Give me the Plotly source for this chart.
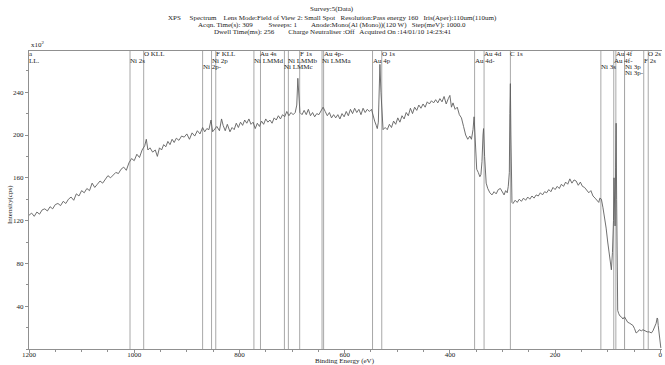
import plotly.graph_objects as go

# ---- spectrum data (binding energy eV, intensity in units of 10^2 cps) ----
energy = [1200, 1195, 1190, 1185, 1180, 1175, 1170, 1165, 1160, 1155, 1150, 1145, 1140, 1135, 1130, 1125,
          1120, 1115, 1110, 1105, 1100, 1095, 1090, 1085, 1080, 1075, 1070, 1065, 1060, 1055, 1050, 1045,
          1040, 1035, 1030, 1025, 1020, 1015, 1010, 1005, 1000, 995, 990, 985, 980, 977, 974, 970, 965,
          960, 956, 952, 948, 944, 940, 936, 932, 928, 924, 920, 915, 910, 905, 900, 895, 890, 885, 880,
          875, 870, 866, 862, 858, 854, 851, 847, 843, 838, 834, 831, 827, 823, 818, 814, 810, 806, 802,
          798, 794, 790, 786, 782, 778, 774, 770, 766, 762, 758, 754, 750, 746, 742, 738, 734, 730, 726,
          722, 718, 714, 710, 706, 702, 698, 694, 691, 689, 687, 685, 681, 677, 673, 669, 665, 661, 657,
          653, 649, 645, 641, 637, 633, 629, 625, 621, 617, 613, 609, 605, 601, 597, 593, 589, 585, 581,
          577, 573, 569, 565, 561, 557, 553, 549, 546, 543, 540, 538, 536, 534, 533, 531, 529, 527, 523,
          519, 515, 511, 507, 503, 499, 495, 491, 487, 483, 479, 475, 471, 467, 463, 459, 455, 451, 447,
          443, 439, 435, 431, 427, 423, 419, 415, 411, 407, 403, 400, 397, 394, 390, 386, 382, 378, 374,
          370, 366, 362, 359, 356, 354, 352, 349, 346, 343, 341, 339, 337, 336, 334, 331, 328, 324, 320,
          316, 312, 308, 304, 300, 297, 294, 291, 289, 287, 286, 285, 284, 283, 282, 280, 276, 272, 268,
          264, 260, 256, 252, 248, 244, 240, 236, 232, 228, 224, 220, 216, 212, 208, 204, 200, 196, 192,
          188, 184, 180, 176, 172, 168, 164, 160, 156, 152, 148, 144, 140, 136, 132, 128, 124, 120, 117,
          115, 112, 109, 106, 103, 100, 97, 95, 93, 91, 89, 88, 87, 86, 85, 84, 83, 82, 81, 79, 77, 74,
          71, 68, 65, 62, 58, 55, 52, 49, 46, 43, 40, 36, 33, 29, 25, 21, 17, 14, 11, 8, 6, 5, 4, 2.5,
          1, -1]
intensity = [125, 127, 124, 128, 126, 130, 131, 129, 133, 131, 135, 136, 134, 138, 136, 140,
             142, 139, 145, 143, 148, 146, 150, 148, 155, 151, 154, 157, 155, 158, 162, 160,
             163, 165, 164, 168, 170, 167, 174, 178, 176, 182, 179, 186, 190, 196, 186, 188, 184,
             186, 180, 188, 186, 191, 189, 194, 191, 196, 193, 197, 195, 199, 198, 201, 196, 202, 199, 204,
             201, 207, 203, 206, 205, 214, 203, 205, 208, 204, 215, 209, 204, 210, 203, 207, 205, 211, 207,
             212, 209, 214, 211, 215, 210, 212, 206, 211, 208, 213, 210, 215, 212, 214, 211, 216, 214, 218,
             215, 219, 217, 222, 218, 221, 219, 221, 228, 253, 232, 221, 219, 223, 219, 224, 218, 221, 217,
             220, 219, 222, 226, 222, 218, 221, 216, 219, 216, 219, 215, 220, 217, 222, 218, 224, 220, 225,
             221, 224, 219, 225, 221, 224, 222, 224, 218, 213, 209, 206, 212, 255, 266, 240, 213, 205, 207,
             205, 210, 207, 213, 210, 216, 212, 218, 215, 221, 218, 225, 220, 226, 223, 228, 225, 229, 226,
             231, 229, 232, 230, 233, 230, 234, 231, 236, 229, 234, 237, 226, 230, 224, 226, 219, 216, 208,
             200, 196, 199, 196, 205, 217, 190, 168, 165, 161, 163, 175, 200, 206, 180, 155, 150, 146, 144,
             147, 145, 149, 150, 147, 144, 148, 146, 152, 165, 220, 248, 200, 150, 137, 136, 139, 137, 140,
             138, 141, 139, 142, 140, 143, 141, 144, 143, 146, 144, 147, 146, 149, 147, 151, 149, 152, 150,
             154, 152, 156, 154, 159, 155, 158, 157, 153, 156, 152, 151, 148, 146, 148, 143, 141, 138, 137,
             141, 140, 132, 124, 113, 100, 88, 79, 74, 90, 120, 160, 130, 115, 170, 211, 140, 70, 36, 33, 31, 30,
             28, 30, 27, 25, 24, 23, 22, 19, 15, 16, 18, 17, 18, 17, 16, 16, 15, 17, 20, 24, 29, 28, 22, 16,
             8, 1]

# ---- peak-identification markers ----
peak_names = ["Ni 2s", "O KLL", "Ni 2p-", "Ni 2p", "F KLL", "Ni LMMd", "Au 4s", "Ni LMMc", "Ni LMMb",
              "F 1s", "Ni LMMa", "Au 4p-", "Au 4p", "O 1s", "Au 4d-", "Au 4d", "C 1s", "Ni 3s",
              "Au 4f-", "Au 4f", "Ni 3p", "Ni 3p-", "F 2s", "O 2s"]
peak_energy = [1008, 982, 870, 853, 845, 772.5, 760, 714.5, 707, 685.5, 643, 640, 547, 529.5,
               353, 335, 285, 113, 88.5, 84.5, 68, 68, 31.5, 23]
peak_row = [2, 1, 3, 2, 1, 2, 1, 3, 2, 1, 2, 1, 2, 1, 2, 1, 1, 3, 2, 1, 3, 4, 2, 1]

header = [
    "Survey:5(Data)",
    "XPS\u00a0\u00a0\u00a0\u00a0 Spectrum\u00a0\u00a0\u00a0 Lens Mode:Field of View 2: Small Spot\u00a0\u00a0\u00a0"
    "Resolution:Pass energy 160\u00a0\u00a0 Iris(Aper):110um(110um)",
    "Acqn. Time(s): 309\u00a0\u00a0\u00a0\u00a0\u00a0\u00a0\u00a0\u00a0 Sweeps: 1\u00a0\u00a0\u00a0\u00a0\u00a0\u00a0\u00a0\u00a0"
    "Anode:Mono(Al (Mono))(120 W)\u00a0\u00a0 Step(meV): 1000.0",
    "Dwell Time(ms): 256\u00a0\u00a0\u00a0\u00a0\u00a0\u00a0\u00a0 Charge Neutraliser :Off\u00a0\u00a0 Acquired On :14/01/10 14:23:41",
]

y_ticks = [40, 80, 120, 160, 200, 240]
x_ticks = [1200, 1000, 800, 600, 400, 200, 0]

FONT = "Liberation Serif, Times New Roman, serif"
TXT = "#222222"

W, H = 665, 365
L, R, T, B = 29, 3, 51, 16
pw, ph = W - L - R, H - T - B


def px_x(px):
    return (px - L) / pw


def px_y(py):
    return (H - B - py) / ph


fig = go.Figure()
fig.add_trace(go.Scatter(x=energy, y=intensity, mode="lines",
                         line=dict(color="#606060", width=0.9), hoverinfo="skip", showlegend=False))

row_y = {1: px_y(54.5), 2: px_y(60.7), 3: px_y(67), 4: px_y(73)}
for name, e, r in zip(peak_names, peak_energy, peak_row):
    fig.add_shape(type="line", x0=e, x1=e, xref="x", yref="paper", y0=0, y1=1,
                  line=dict(color="#a8a8a8", width=1), layer="below")
    fig.add_annotation(x=e, y=row_y[r], xref="x", yref="paper", text=name, showarrow=False,
                       xanchor="left", yanchor="middle", xshift=-1,
                       font=dict(family=FONT, size=7, color=TXT), borderpad=0)

# clipped label at left edge
for t, r in (("a", 1), ("LL.", 2)):
    fig.add_annotation(x=0, y=row_y[r], xref="paper", yref="paper", text=t, showarrow=False,
                       xanchor="left", yanchor="middle", xshift=-1,
                       font=dict(family=FONT, size=7, color=TXT), borderpad=0)

header_y = [9, 18, 25, 32]
for t, py in zip(header, header_y):
    fig.add_annotation(x=px_x(332), y=px_y(py), xref="paper", yref="paper", text=t, showarrow=False,
                       font=dict(family=FONT, size=7, color=TXT), xanchor="center", yanchor="middle")

fig.add_annotation(x=px_x(29), y=px_y(44), xref="paper", yref="paper",
                   text="x10<sup>2</sup>", showarrow=False, xanchor="left", yanchor="middle",
                   font=dict(family=FONT, size=7, color=TXT))
fig.add_annotation(x=px_x(345), y=px_y(361), xref="paper", yref="paper",
                   text="Binding Energy (eV)", showarrow=False, xanchor="center", yanchor="middle",
                   font=dict(family=FONT, size=7, color=TXT), borderpad=0)
fig.add_annotation(x=px_x(10), y=px_y(205), xref="paper", yref="paper",
                   text="Intensity(cps)", showarrow=False, textangle=-90, xanchor="center", yanchor="middle",
                   font=dict(family=FONT, size=7, color=TXT))

fig.update_layout(
    width=W, height=H,
    margin=dict(l=L, r=R, t=T, b=B),
    paper_bgcolor="white", plot_bgcolor="white",
    showlegend=False,
    xaxis=dict(range=[1200, -3.2], tickvals=x_ticks, ticktext=[str(v) for v in x_ticks],
               showgrid=False, zeroline=False, showline=True, linecolor="#909090", linewidth=1,
               mirror=True, ticks="outside", ticklen=3, tickcolor="#909090",
               ticklabelstandoff=-4,
               tickfont=dict(family=FONT, size=7, color=TXT),
               minor=dict(dtick=50, tick0=0, ticks="outside", ticklen=2, tickcolor="#909090")),
    yaxis=dict(range=[0, 278.5], tickvals=y_ticks, ticktext=[str(v) for v in y_ticks],
               showgrid=False, zeroline=False, showline=True, linecolor="#909090", linewidth=1,
               ticks="outside", ticklen=3, tickcolor="#909090",
               tickfont=dict(family=FONT, size=7, color=TXT),
               minor=dict(dtick=20, tick0=0, ticks="outside", ticklen=2, tickcolor="#909090")),
)

fig.write_html("out.html")
